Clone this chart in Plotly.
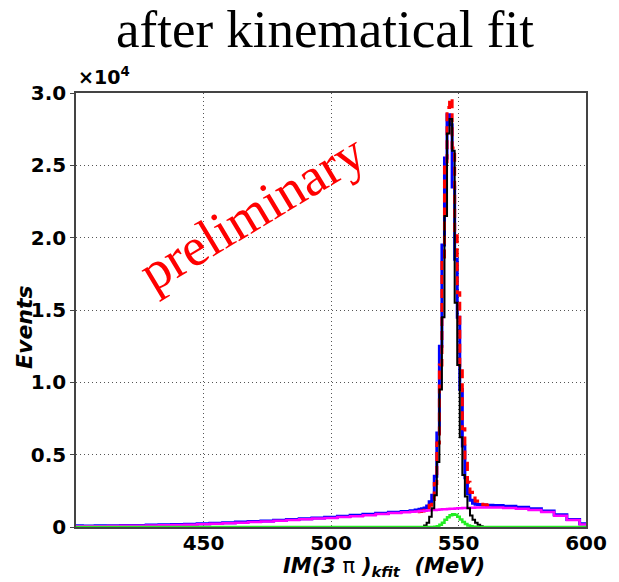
import plotly.graph_objects as go

# Bin centres (MeV); values in units of 10^4 events
x_mev = [400, 405, 410, 415, 420, 425, 430, 435, 440, 445, 450, 455, 460, 465, 470, 475, 480, 485,
         490, 495, 500, 505, 510, 515, 520, 525, 530,
         532, 534, 535, 536, 537, 538, 539, 540, 541, 542, 543, 544, 545, 546, 547, 548, 549, 550,
         551, 552, 553, 554, 555, 556, 557, 558, 559, 560, 562,
         565, 570, 575, 580, 585, 590, 595, 600]

data_blue = [.008, .007, .008, .009, .010, .011, .013, .015, .017, .019, .022, .026, .030, .034, .038, .042,
             .047, .052, .057, .062, .068, .074, .081, .088, .095, .102, .108,
             .112, .118, .122, .126, .132, .145, .175, .22, .35, .65, 1.25, 1.95, 2.55, 2.85, 2.78, 2.35,
             1.85, 1.45, .95, .56, .34, .23, .185, .165, .158, .155, .153, .152, .151,
             .149, .144, .137, .126, .110, .084, .052, .022]

mc_red = [None] * 28 + [.105, .107, .110, .115, .125, .15, .19, .30, .58, 1.12, 1.85, 2.50, 2.90, 2.96,
                        2.62, 2.05, 1.62, 1.08, .68, .44, .31, .24, .20, .18, .165, .158, .153, .151] + [None] * 8

signal_black = [0] * 27 + [0, 0, 0, 0, .01, .03, .07, .13, .22, .45, .95, 1.45, 2.15, 2.72, 2.82, 2.60,
                           1.55, 1.12, .62, .36, .21, .13, .08, .05, .03, .015, .006, 0, 0] + [0] * 8

bkg_magenta = [.005, .005, .006, .007, .008, .009, .010, .012, .014, .016, .019, .022, .026, .030, .034,
               .038, .043, .048, .053, .058, .063, .069, .075, .082, .089, .096, .102,
               .105, .108, .110, .111, .112, .114, .115, .117, .118, .119, .121, .122, .123, .125, .126,
               .127, .128, .129, .130, .131, .132, .132, .133, .133, .134, .134, .134, .135, .135,
               .135, .132, .127, .118, .103, .078, .048, .018]

other_green = [0] * 27 + [0, 0, 0, 0, 0, 0, 0, 0, .002, .006, .015, .03, .05, .068, .082, .088, .084,
                          .07, .052, .035, .021, .011, .005, .002, 0, 0, 0, 0, 0] + [0] * 8

y_ticks = [0, 0.5, 1.0, 1.5, 2.0, 2.5, 3.0]
y_tick_labels = ["0", "0.5", "1.0", "1.5", "2.0", "2.5", "3.0"]
x_ticks = [450, 500, 550, 600]

fig = go.Figure()
fig.add_trace(go.Scatter(x=x_mev, y=data_blue, mode="lines", line=dict(color="#0000ff", width=3, shape="hvh")))
fig.add_trace(go.Scatter(x=x_mev, y=mc_red, mode="lines",
                         line=dict(color="#ff0000", width=3, shape="hvh", dash="9px,5px")))
fig.add_trace(go.Scatter(x=x_mev, y=bkg_magenta, mode="lines", line=dict(color="#ff00ff", width=2.5, shape="hvh")))
fig.add_trace(go.Scatter(x=x_mev, y=signal_black, mode="lines", line=dict(color="#000000", width=2, shape="hvh")))
fig.add_trace(go.Scatter(x=x_mev, y=other_green, mode="lines", line=dict(color="#22ee22", width=2.5, shape="hvh")))

tickfont = dict(family="DejaVu Sans", size=20, color="black", weight="bold")
fig.update_xaxes(range=[400, 600], tickvals=x_ticks, showgrid=True, gridcolor="#555", griddash="1px,3px",
                 gridwidth=1, showline=True, linecolor="#444", linewidth=1.5, mirror=True, ticks="",
                 tickfont=tickfont, zeroline=False, ticklabelstandoff=-3)
fig.update_yaxes(range=[0, 3.0], tickvals=y_ticks, ticktext=y_tick_labels, showgrid=True, gridcolor="#555",
                 griddash="1px,3px", gridwidth=1, showline=True, linecolor="#444", linewidth=1.5, mirror=True,
                 ticks="outside", ticklen=4, tickcolor="#444", tickfont=tickfont, zeroline=False)

fig.add_annotation(text="after kinematical fit", xref="paper", yref="paper", x=0.488, y=1.147,
                   xanchor="center", yanchor="middle", showarrow=False,
                   font=dict(family="Liberation Serif", size=53, color="black"))
fig.add_annotation(text="preliminary", xref="paper", yref="paper", x=0.346, y=0.725, textangle=-31,
                   xanchor="center", yanchor="middle", showarrow=False,
                   font=dict(family="Liberation Serif", size=54, color="#ff0000"))
fig.add_annotation(text="×10<sup>4</sup>", xref="paper", yref="paper", x=0.0, y=1.04,
                   xanchor="left", yanchor="middle", showarrow=False,
                   font=dict(family="DejaVu Sans", size=19, color="black", weight="bold"))
fig.add_annotation(text="<b><i>IM(3</i></b> π <b><i>)<sub>kfit</sub>\u00a0\u00a0(MeV)</i></b>",
                   xref="paper", yref="paper", x=0.604, y=-0.126, xanchor="center", yanchor="bottom",
                   showarrow=False, font=dict(family="DejaVu Sans", size=21, color="black"))
fig.add_annotation(text="<b><i>Events</i></b>", xref="paper", yref="paper", x=-0.1, y=0.461, textangle=-90,
                   xanchor="center", yanchor="middle", showarrow=False,
                   font=dict(family="DejaVu Sans", size=22, color="black"))

fig.update_layout(width=619, height=582, margin=dict(l=76, r=23, t=93, b=55),
                  paper_bgcolor="white", plot_bgcolor="white", showlegend=False)
fig.write_html("out.html")
